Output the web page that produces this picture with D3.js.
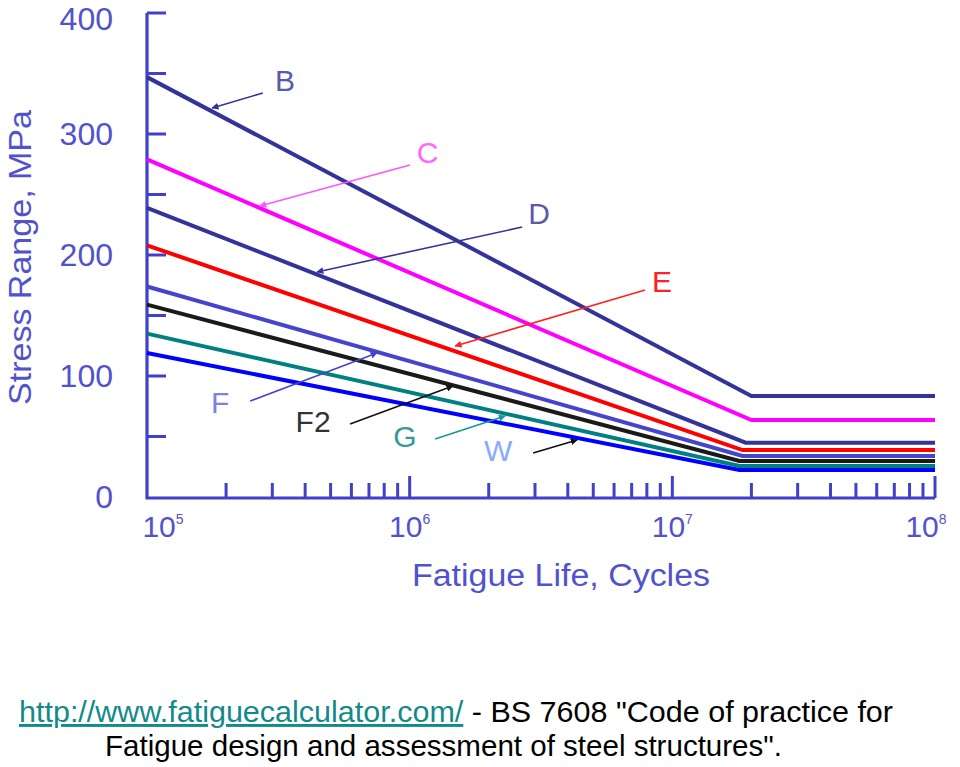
<!DOCTYPE html>
<html>
<head>
<meta charset="utf-8">
<script src="https://cdn.jsdelivr.net/npm/d3@7"></script>
<style>
  html, body { margin: 0; padding: 0; background: #ffffff; }
  svg { display: block; font-family: "Liberation Sans", Arial, sans-serif; }
</style>
</head>
<body>
<svg id="chart" width="960" height="767"></svg>
<script>
// ---------- DATA ----------
const seriesNames   = ["B", "C", "D", "E", "F", "F2", "G", "W"];
const startCycles   = 1e5;
const endCycles     = 1e8;
const startStress   = [347, 279, 239, 208, 174, 159, 135, 119];
const kneeCycles    = [2.0e7, 2.0e7, 1.9e7, 1.85e7, 1.85e7, 1.8e7, 1.8e7, 1.8e7];
const kneeStress    = [83.5, 63.6, 44.9, 38.8, 33.9, 29.8, 25.6, 22.3];

// annotation anchors (data space: cycles, MPa)
const labelCycles   = [3.35e5, 1.17e6, 3.11e6, 9.13e6, 1.90e5, 4.29e5, 9.60e5, 2.17e6];
const labelStress   = [344.6, 284.3, 233.9, 177.7, 77.7, 62.0, 49.6, 38.8];
const leaderCycles  = [2.76e5, 1.003e6, 2.68e6, 7.87e6, 2.47e5, 5.93e5, 1.25e6, 2.95e6];
const leaderStress  = [333.9, 274.4, 223.1, 171.1, 79.3, 60.3, 47.9, 36.4];
const tipCycles     = [1.77e5, 2.69e5, 4.44e5, 1.49e6, 7.51e5, 1.46e6, 2.31e6, 4.34e6];
const tipStress     = [321.5, 240.5, 186.0, 124.8, 119.0, 91.7, 66.9, 47.1];

const yTickValues   = [0, 100, 200, 300, 400];
const yMinorTicks   = [50, 100, 150, 200, 250, 300, 350, 400];
const xDecades      = [5, 6, 7, 8];
const xTitle        = "Fatigue Life, Cycles";
const yTitle        = "Stress Range, MPa";
const captionLink   = "http://www.fatiguecalculator.com/";
const captionRest1  = " - BS 7608 \"Code of practice for";
const captionLine2  = "Fatigue design and assessment of steel structures\".";

// ---------- STYLES ----------
const lineColors  = ["#333399", "#ff00ff", "#333399", "#ff0000", "#4444cc", "#1a1a1a", "#008080", "#0000ff"];
const labelColors = ["#5a5aaa", "#ff66ff", "#5a5aaa", "#ff2020", "#8080e0", "#333333", "#339999", "#88aaff"];
const leadColors  = ["#333399", "#ff55ff", "#333399", "#ff2020", "#4444cc", "#111111", "#119999", "#111111"];
const axisColor = "#4040c8";
const textColor = "#5252cc";

// ---------- SCALES ----------
const svg = d3.select("#chart");
const x = d3.scaleLog().domain([1e5, 1e8]).range([147, 935]);
const y = d3.scaleLinear().domain([0, 400]).range([497, 13]);

// ---------- AXES ----------
const g = svg.append("g");

const xMinor = [];
for (let d = 5; d < 8; d++) for (let k = 2; k <= 9; k++) xMinor.push(k * Math.pow(10, d));
g.selectAll("line.xminor").data(xMinor).enter().append("line")
  .attr("x1", d => x(d)).attr("x2", d => x(d))
  .attr("y1", 498).attr("y2", 483)
  .attr("stroke", axisColor).attr("stroke-width", 3);
g.selectAll("line.xmajor").data(xDecades.slice(1)).enter().append("line")
  .attr("x1", d => x(Math.pow(10, d))).attr("x2", d => x(Math.pow(10, d)))
  .attr("y1", 498).attr("y2", 476)
  .attr("stroke", axisColor).attr("stroke-width", 3);

g.selectAll("line.ytick").data(yMinorTicks).enter().append("line")
  .attr("x1", 147).attr("x2", 166)
  .attr("y1", d => y(d)).attr("y2", d => y(d))
  .attr("stroke", axisColor).attr("stroke-width", 3);

g.append("path")
  .attr("d", `M${x(1e5)},${y(400)} L${x(1e5)},${498} L${x(1e8)},${498}`)
  .attr("fill", "none").attr("stroke", axisColor).attr("stroke-width", 3.2);

// y tick labels
g.selectAll("text.ylab").data(yTickValues).enter().append("text")
  .attr("x", 113).attr("y", d => Math.max(19, y(d)))
  .attr("text-anchor", "end").attr("dominant-baseline", "central")
  .attr("font-size", 32).attr("fill", textColor)
  .text(d => d);

// x tick labels
const xl = g.selectAll("text.xlab").data(xDecades).enter().append("text")
  .attr("x", d => Math.min(926, Math.max(163, x(Math.pow(10, d)))))
  .attr("y", 537)
  .attr("text-anchor", "middle")
  .attr("font-size", 30).attr("fill", textColor);
xl.append("tspan").text("10");
xl.append("tspan").attr("font-size", 14).attr("dy", -13).text(d => d);

// axis titles
g.append("text").attr("x", 412).attr("y", 586)
  .attr("font-size", 31).attr("fill", textColor)
  .attr("textLength", 298).attr("lengthAdjust", "spacingAndGlyphs")
  .text(xTitle);
g.append("text").attr("transform", "translate(31,405) rotate(-90)")
  .attr("font-size", 31).attr("fill", textColor)
  .attr("textLength", 295).attr("lengthAdjust", "spacingAndGlyphs")
  .text(yTitle);

// ---------- SERIES ----------
const line = d3.line().x(d => x(d[0])).y(d => y(d[1]));
seriesNames.forEach((name, i) => {
  const pts = [[startCycles, startStress[i]], [kneeCycles[i], kneeStress[i]], [endCycles, kneeStress[i]]];
  g.append("path").attr("d", line(pts))
    .attr("fill", "none").attr("stroke", lineColors[i]).attr("stroke-width", 4)
    .attr("stroke-linejoin", "miter");
});

// ---------- ANNOTATIONS ----------
const defs = svg.append("defs");
seriesNames.forEach((name, i) => {
  defs.append("marker").attr("id", "arr" + i)
    .attr("viewBox", "0 0 10 10").attr("refX", 9).attr("refY", 5)
    .attr("markerWidth", 7).attr("markerHeight", 7).attr("markerUnits", "userSpaceOnUse")
    .attr("orient", "auto")
    .append("path").attr("d", "M0,0 L10,5 L0,10 z").attr("fill", leadColors[i]);
});
seriesNames.forEach((name, i) => {
  g.append("line")
    .attr("x1", x(leaderCycles[i])).attr("y1", y(leaderStress[i]))
    .attr("x2", x(tipCycles[i])).attr("y2", y(tipStress[i]))
    .attr("stroke", leadColors[i]).attr("stroke-width", 1.6)
    .attr("marker-end", `url(#arr${i})`);
  g.append("text")
    .attr("x", x(labelCycles[i])).attr("y", y(labelStress[i]))
    .attr("text-anchor", "middle").attr("dominant-baseline", "central")
    .attr("font-size", 30).attr("fill", labelColors[i])
    .text(name);
});

// ---------- CAPTION ----------
const c1 = svg.append("text").attr("x", 19).attr("y", 722).attr("font-size", 29).attr("fill", "#000")
  .attr("textLength", 874).attr("lengthAdjust", "spacingAndGlyphs");
c1.append("tspan").attr("fill", "#138a8a").attr("text-decoration", "underline").text(captionLink);
c1.append("tspan").text(captionRest1);
svg.append("text").attr("x", 105).attr("y", 756).attr("font-size", 29).attr("fill", "#000")
  .attr("textLength", 677).attr("lengthAdjust", "spacingAndGlyphs")
  .text(captionLine2);
</script>
</body>
</html>
